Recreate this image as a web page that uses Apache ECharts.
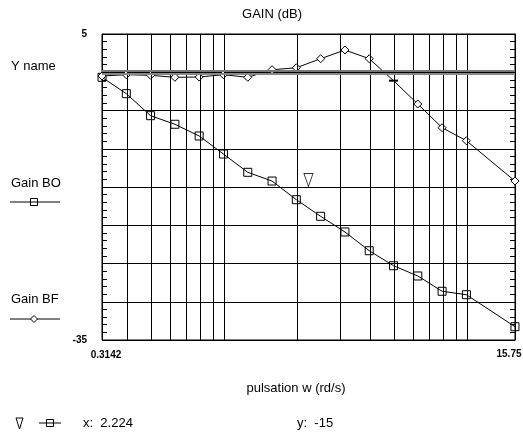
<!DOCTYPE html>
<html>
<head>
<meta charset="utf-8">
<script src="https://cdn.jsdelivr.net/npm/echarts@6/dist/echarts.min.js"></script>
<style>
  html, body { margin: 0; padding: 0; background: #fff; }
  #chart { width: 523px; height: 432px; }
</style>
</head>
<body>
<div id="chart"></div>
<script>
// pulsation w (rd/s), log spaced
var pulsation = [0.3142, 0.3956, 0.4980, 0.6269, 0.7892, 0.9936, 1.2508, 1.5747, 1.9824,
  2.4957, 3.1420, 3.9556, 4.9797, 6.2691, 7.8923, 9.9358, 15.747]
var gainBO = [-0.66, -2.8, -5.68, -6.8, -8.33, -10.69, -13.08, -14.22, -16.66,
  -18.83, -20.88, -23.33, -25.29, -26.63, -28.63, -29.08, -33.26]
var gainBF = [-0.49, -0.32, -0.4, -0.66, -0.62, -0.32, -0.66, 0.33, 0.59,
  1.77, 2.91, 1.77, -1.1, -4.15, -7.25, -8.95, -14.22]
var xGridValues = [0.4, 0.5, 0.6, 0.7, 0.8, 0.9, 1, 2, 3, 4, 5, 6, 7, 8, 9, 10]
var xMin = 0.3142
var xMax = 15.75
var yMin = -35
var yMax = 5
var cursorX = 2.224
var cursorY = -15

var FONT = '"Liberation Sans", Arial, sans-serif'
var chart = echarts.init(document.getElementById('chart'), null, { renderer: 'canvas' })

function pairs(ys) {
  return ys.map(function (y, i) { return [pulsation[i], y] })
}

var bfData = pairs(gainBF).map(function (p, i) {
  // the cursor-marked point is drawn as a short dash
  if (i === 12) {
    return { value: p, symbol: 'rect', symbolSize: [9, 2], itemStyle: { color: '#000', borderWidth: 0 } }
  }
  return p
})

var yAxisBase = {
  type: 'value',
  min: yMin,
  max: yMax,
  interval: 5,
  axisLine: { show: true, lineStyle: { color: '#000', width: 1 } },
  axisTick: { show: true, inside: true, length: 5, lineStyle: { color: '#000' } },
  minorTick: { show: true, splitNumber: 5, length: 5, lineStyle: { color: '#000' } }
}

var option = {
  animation: false,
  backgroundColor: '#fff',
  grid: {
    left: 102,
    top: 34,
    width: 413,
    height: 306,
    show: true,
    borderColor: '#000',
    borderWidth: 1,
    backgroundColor: 'transparent'
  },
  xAxis: {
    type: 'log',
    logBase: 10,
    min: xMin,
    max: xMax,
    axisLine: { show: true, lineStyle: { color: '#000' } },
    axisTick: { show: false },
    axisLabel: { show: false },
    splitLine: { show: false }
  },
  yAxis: [
    Object.assign({}, yAxisBase, {
      position: 'left',
      splitLine: { show: true, lineStyle: { color: '#000', width: 1 } },
      axisLabel: {
        margin: 15,
        fontFamily: FONT,
        fontSize: 10,
        fontWeight: 'bold',
        color: '#000',
        formatter: function (v) { return (v === yMax || v === yMin) ? String(v) : '' }
      }
    }),
    Object.assign({}, yAxisBase, {
      position: 'right',
      splitLine: { show: false },
      axisLabel: { show: false }
    })
  ],
  series: [
    {
      // grid lines of the log axis and the 0 dB reference
      type: 'line',
      data: [],
      z: 1,
      silent: true,
      markLine: {
        silent: true,
        symbol: 'none',
        label: { show: false },
        data: xGridValues.map(function (v) {
          return { xAxis: v, lineStyle: { color: '#000', width: 1, type: 'solid' } }
        }).concat([
          { yAxis: 0.2, lineStyle: { color: '#777', width: 2, type: 'solid' } },
          { yAxis: -0.2, lineStyle: { color: '#888', width: 2, type: 'solid' } }
        ])
      }
    },
    {
      name: 'Gain BO',
      type: 'line',
      z: 3,
      data: pairs(gainBO),
      symbol: 'rect',
      symbolSize: 8,
      showAllSymbol: true,
      lineStyle: { color: '#000', width: 1 },
      itemStyle: { color: 'rgba(255,255,255,0)', borderColor: '#000', borderWidth: 1 }
    },
    {
      name: 'Gain BF',
      type: 'line',
      z: 3,
      data: bfData,
      symbol: 'diamond',
      symbolSize: 8,
      showAllSymbol: true,
      lineStyle: { color: '#000', width: 1 },
      itemStyle: { color: '#fff', borderColor: '#000', borderWidth: 1 }
    },
    {
      name: 'cursor',
      type: 'scatter',
      z: 4,
      data: [[cursorX, cursorY]],
      symbol: 'triangle',
      symbolRotate: 180,
      symbolSize: [9, 13],
      symbolOffset: [0, -7],
      itemStyle: { color: 'rgba(255,255,255,0)', borderColor: '#000', borderWidth: 1 }
    }
  ],
  graphic: [
    { type: 'text', x: 272, y: 14, style: { text: 'GAIN (dB)', font: '13px ' + FONT, fill: '#000', align: 'center', verticalAlign: 'middle' } },
    { type: 'text', x: 11, y: 66, style: { text: 'Y name', font: '13px ' + FONT, fill: '#000', verticalAlign: 'middle' } },
    { type: 'text', x: 11, y: 183, style: { text: 'Gain BO', font: '13px ' + FONT, fill: '#000', verticalAlign: 'middle' } },
    { type: 'line', shape: { x1: 10, y1: 202, x2: 60, y2: 202 }, style: { stroke: '#000', lineWidth: 1 } },
    { type: 'rect', shape: { x: 30.5, y: 198.5, width: 7, height: 7 }, style: { fill: 'none', stroke: '#000', lineWidth: 1 } },
    { type: 'text', x: 11, y: 299, style: { text: 'Gain BF', font: '13px ' + FONT, fill: '#000', verticalAlign: 'middle' } },
    { type: 'line', shape: { x1: 10, y1: 319, x2: 60, y2: 319 }, style: { stroke: '#000', lineWidth: 1 } },
    { type: 'polygon', shape: { points: [[34, 315.5], [37.5, 319], [34, 322.5], [30.5, 319]] }, style: { fill: '#fff', stroke: '#000', lineWidth: 1 } },
    { type: 'text', x: 106, y: 355, style: { text: '0.3142', font: 'bold 10px ' + FONT, fill: '#000', align: 'center', verticalAlign: 'middle' } },
    { type: 'text', x: 509, y: 354, style: { text: '15.75', font: 'bold 10px ' + FONT, fill: '#000', align: 'center', verticalAlign: 'middle' } },
    { type: 'text', x: 296, y: 388, style: { text: 'pulsation w (rd/s)', font: '13px ' + FONT, fill: '#000', align: 'center', verticalAlign: 'middle' } },
    { type: 'polygon', shape: { points: [[16, 418], [23, 418], [19.5, 429]] }, style: { fill: 'none', stroke: '#000', lineWidth: 1 } },
    { type: 'line', shape: { x1: 39, y1: 423, x2: 61, y2: 423 }, style: { stroke: '#000', lineWidth: 1 } },
    { type: 'rect', shape: { x: 46.5, y: 419.5, width: 7, height: 7 }, style: { fill: 'none', stroke: '#000', lineWidth: 1 } },
    { type: 'text', x: 83, y: 423, style: { text: 'x:  ' + cursorX, font: '13px ' + FONT, fill: '#000', verticalAlign: 'middle' } },
    { type: 'text', x: 297, y: 423, style: { text: 'y:  ' + cursorY, font: '13px ' + FONT, fill: '#000', verticalAlign: 'middle' } }
  ]
}

chart.setOption(option)
</script>
</body>
</html>
